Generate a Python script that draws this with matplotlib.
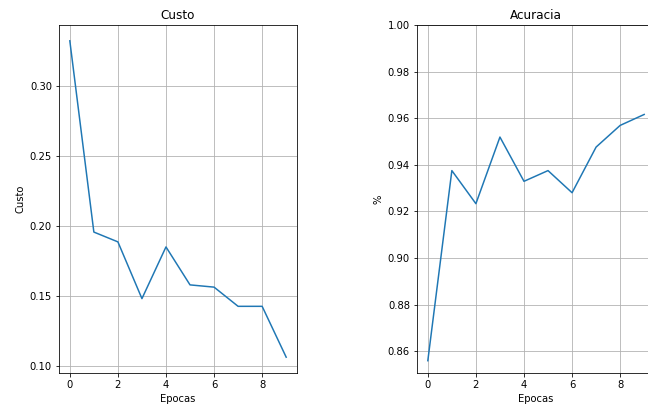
import matplotlib
matplotlib.use("Agg")
import matplotlib.pyplot as plt
import numpy as np

epocas = np.arange(10)
custo = [0.332, 0.1955, 0.1885, 0.148, 0.1849, 0.1578, 0.1562, 0.1425, 0.1425, 0.1062]
acuracia = [0.8559, 0.9375, 0.9233, 0.9519, 0.9329, 0.9375, 0.9280, 0.9476, 0.9569, 0.9616]

W, H = 648, 410
fig = plt.figure(figsize=(W / 72, H / 72), dpi=72)

# left panel: loss
ax1 = fig.add_axes([59 / W, (H - 373) / H, 238 / W, 348 / H])
ax1.plot(epocas, custo)
ax1.set_title("Custo")
ax1.set_xlabel("Epocas")
ax1.set_ylabel("Custo")
ax1.grid(True)

# right panel: accuracy (runs past the right edge)
ax2 = fig.add_axes([417 / W, (H - 373) / H, 238 / W, 348 / H])
ax2.plot(epocas, acuracia)
ax2.set_ylim(top=1.0)
ax2.set_title("Acuracia")
ax2.set_xlabel("Epocas")
ax2.set_ylabel("%")
ax2.grid(True)

fig.savefig("out.png", dpi=72)
